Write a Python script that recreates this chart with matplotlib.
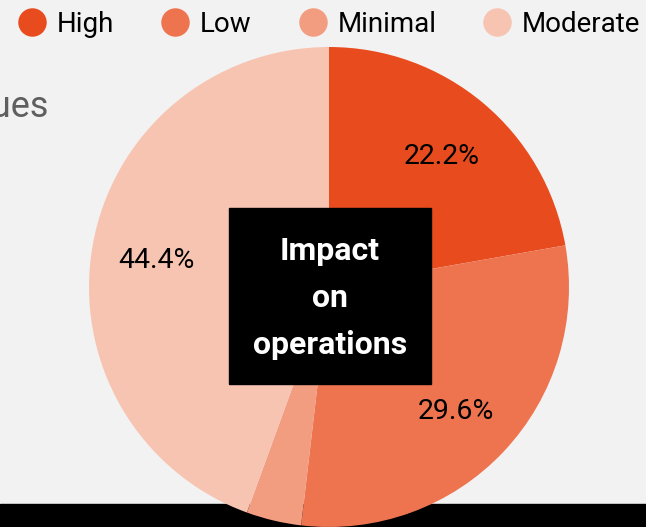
import matplotlib
matplotlib.use("Agg")
import matplotlib.pyplot as plt
from matplotlib.lines import Line2D
from matplotlib.patches import Rectangle

plt.rcParams['font.family'] = ['Roboto', 'DejaVu Sans']

categorias = ["High", "Low", "Minimal", "Moderate"]
valores = [6, 8, 1, 12]
cores = ["#E84C1E", "#EE7450", "#F29C80", "#F7C4B2"]
titulo = "Issues"
centro = "Impact\non\noperations"

W, H = 646, 527
fig = plt.figure(figsize=(W / 100, H / 100), dpi=100, facecolor="#F2F2F2")
ax = fig.add_axes([0, 0, 1, 1])

# faixa preta no rodapé, atrás da pizza
ax.add_patch(Rectangle((0, 0), W, 23, color="black", zorder=0))


def rotulo(p):
    return f"{p:.1f}%" if p >= 5 else ""


fatias, textos, pcts = ax.pie(
    valores, colors=cores, startangle=90, counterclock=False,
    center=(329, H - 287), radius=240, autopct=rotulo, pctdistance=0.73,
    textprops={'fontsize': 20.5, 'color': 'black'},
    wedgeprops={'linewidth': 0}, frame=True)
for f in fatias:
    f.set_zorder(1)
# rótulos um pouco mais baixos, como no original
for t in pcts:
    x, y = t.get_position()
    t.set_position((x, y - 4))
ax.set_xlim(0, W)
ax.set_ylim(0, H)
ax.axis('off')

ax.text(49, H - 117, titulo, ha='right', va='baseline', fontsize=26, color="#5F5F5F")

ax.add_patch(Rectangle((229, H - 384), 202, 176, color='black', zorder=4))
ax.text(330, H - 298, centro, ha='center', va='center', fontsize=23,
        fontweight='bold', color='white', linespacing=1.72, zorder=5)

handles = [Line2D([], [], marker='o', linestyle='none', markersize=20.5,
                  markerfacecolor=c, markeredgecolor='none') for c in cores]
fig.legend(handles, categorias, loc='upper left', bbox_to_anchor=(18 / W, 1 - 11 / H),
           ncol=4, frameon=False, fontsize=20, handlelength=1.0, handletextpad=0.39,
           columnspacing=1.7, borderpad=0, borderaxespad=0)

fig.savefig("out.png", dpi=100, facecolor=fig.get_facecolor())
